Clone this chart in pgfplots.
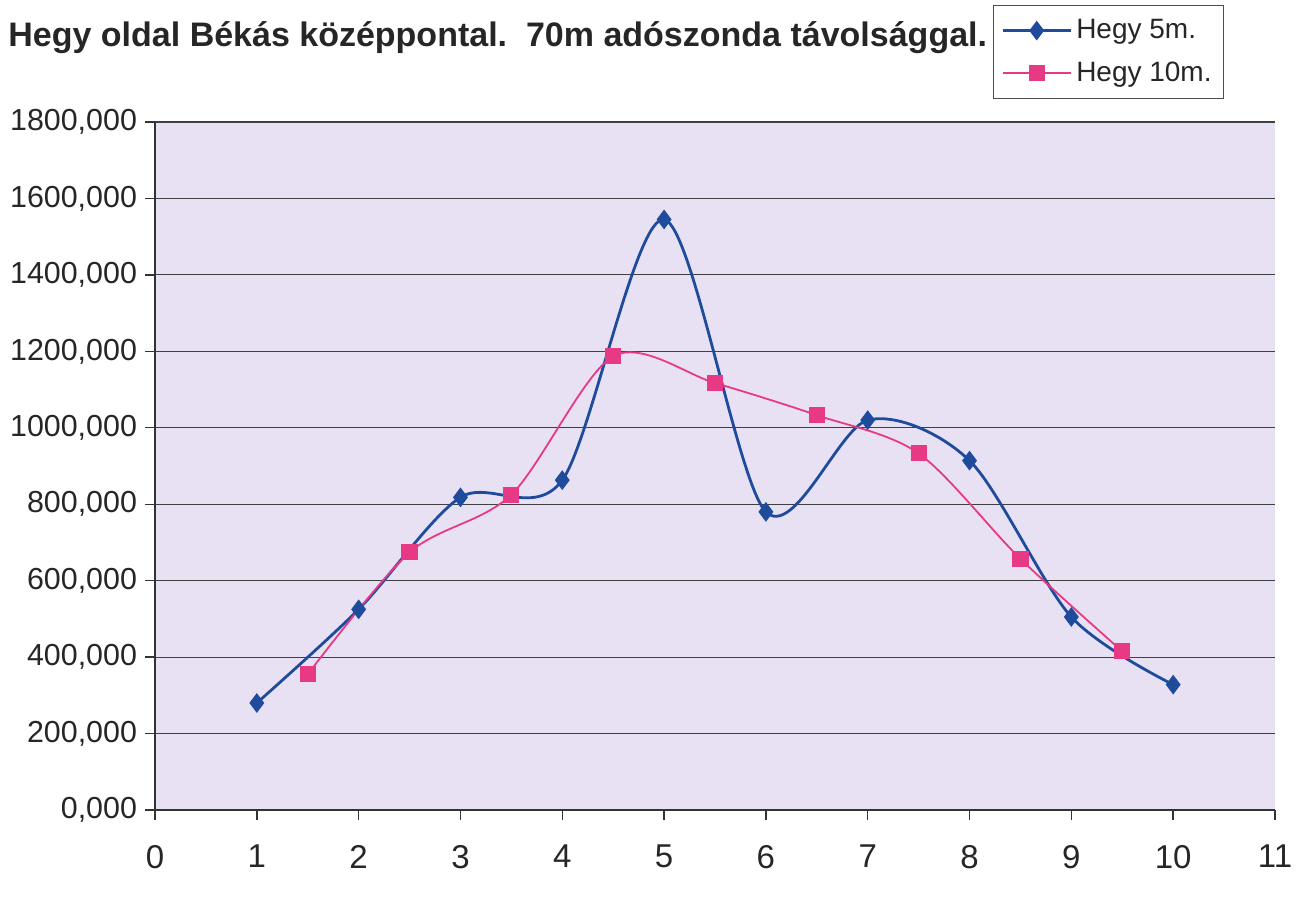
\documentclass[border=0pt]{standalone}
\usepackage{fontspec}
\setmainfont{Liberation Sans}
\usepackage{pgfplots}
\pgfplotsset{compat=1.18}
\definecolor{hegyblue}{RGB}{30,75,155}
\definecolor{hegypink}{RGB}{232,58,132}
\definecolor{plotbg}{RGB}{232,225,243}

\begin{document}
\begin{tikzpicture}
\useasboundingbox (0,0) rectangle (648.5pt,448pt);
\node[anchor=west, inner sep=0pt, text=black!85] at (4pt,429pt)
  {\fontsize{17}{20}\selectfont\bfseries Hegy oldal Békás középpontal.\ \ 70m adószonda távolsággal.};
\begin{axis}[
    at={(77.5pt,43pt)}, anchor=south west,
    scale only axis,
    width=560pt, height=344pt,
    xmin=0, xmax=11, ymin=0, ymax=1800,
    xtick={0,1,...,11},
    ytick={0,200,...,1800},
    axis x line*=bottom, axis y line*=left,
    axis line style={black!80, line width=0.7pt},
    tick align=outside, major tick length=5pt,
    tick style={black!80, line width=0.7pt},
    axis background/.style={fill=plotbg},
    ymajorgrids,
    major grid style={black!75, line width=0.6pt},
    /pgf/number format/assume math mode=true,
    tick label style={font=\fontsize{15.2}{18}\selectfont, text=black!85},
    xticklabel style={yshift=-9pt, font=\fontsize{16.5}{19}\selectfont},
    yticklabel style={xshift=-0.5pt, /pgf/number format/.cd, fixed, fixed zerofill, precision=3, use comma, 1000 sep={}},
    legend style={at={(0.748,1.170)}, anchor=north west, draw=black!70,
      font=\fontsize{14}{17}\selectfont, row sep=6pt, inner xsep=4pt, inner ysep=5pt,
      text=black!85},
    legend cell align=left,
    legend image code/.code={\draw[mark repeat=2, mark phase=2] plot coordinates {(0cm,0cm) (0.6cm,0cm) (1.2cm,0cm)};},
]
\addplot[hegyblue, line width=1.4pt, smooth, mark=diamond*, mark size=3.8pt, mark options={solid, fill=hegyblue}]
  coordinates {(1,280) (2,525) (3,818) (4,863) (5,1545) (6,780) (7,1020) (8,914) (9,505) (10,328)};
\addlegendentry{Hegy 5m.}
\addplot[hegypink, line width=0.9pt, smooth, mark=square*, mark size=3.6pt, mark options={solid, fill=hegypink}]
  coordinates {(1.5,355) (2.5,674) (3.5,825) (4.5,1187) (5.5,1117) (6.5,1033) (7.5,933) (8.5,657) (9.5,415)};
\addlegendentry{Hegy 10m.}
\end{axis}
\end{tikzpicture}
\end{document}
